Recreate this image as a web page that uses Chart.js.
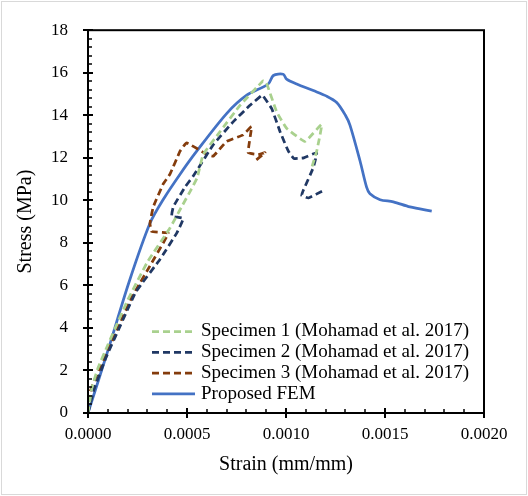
<!DOCTYPE html>
<html>
<head>
<meta charset="utf-8">
<script src="https://cdn.jsdelivr.net/npm/chart.js@4.4.1/dist/chart.umd.min.js"></script>
<style>
html, body { margin: 0; padding: 0; background: #fff; }
</style>
</head>
<body>
<canvas id="stressChart" width="528" height="496"></canvas>
<script>
// values
const seriesNames = [
    'Specimen 1 (Mohamad et al. 2017)',
    'Specimen 2 (Mohamad et al. 2017)',
    'Specimen 3 (Mohamad et al. 2017)',
    'Proposed FEM'
];

const strain1 = [0, 0.00002, 0.00005, 0.0001, 0.0002, 0.0003, 0.000414, 0.000473, 0.000523, 0.000552, 0.000582, 0.000667, 0.000768, 0.000885, 0.0009, 0.000953, 0.001003, 0.001096, 0.00118, 0.001155, 0.00113];
const stress1 = [0, 1.2, 2.1, 3.2, 5.3, 7.1, 8.7, 9.7, 10.54, 11.08, 12.16, 13.23, 14.47, 15.62, 15.55, 14.16, 13.39, 12.77, 13.57, 12.31, 11.54];

const strain2 = [0, 0.00003, 0.000091, 0.000158, 0.000242, 0.000364, 0.000448, 0.000481, 0.000423, 0.000431, 0.00049, 0.000532, 0.000549, 0.000633, 0.000734, 0.000818, 0.000877, 0.000885, 0.000928, 0.00097, 0.001012, 0.00104, 0.00109, 0.001155, 0.001138, 0.001087, 0.001079, 0.001113, 0.001188];
const stress2 = [0, 1.1, 2.61, 4.0, 5.7, 7.23, 8.46, 9.15, 9.26, 9.7, 10.62, 11.15, 11.39, 12.62, 13.7, 14.47, 14.93, 14.9, 14.31, 13.23, 12.31, 11.97, 12.0, 12.24, 11.54, 10.46, 10.23, 10.11, 10.46];

const strain3 = [0, 0.000007, 0.00004, 0.000108, 0.000158, 0.000226, 0.000246, 0.000313, 0.00038, 0.000405, 0.000321, 0.000313, 0.00033, 0.00038, 0.000414, 0.000465, 0.000498, 0.0006, 0.000633, 0.0007, 0.000784, 0.000826, 0.000809, 0.00086, 0.000894, 0.000843];
const stress3 = [0, 0.9, 1.69, 3.07, 4.15, 5.54, 5.85, 6.92, 8.0, 8.46, 8.54, 8.92, 9.7, 10.77, 11.23, 12.31, 12.7, 12.16, 12.08, 12.77, 13.08, 13.47, 12.24, 12.16, 12.24, 11.85];

const strainFem = [0, 0.0001, 0.000207, 0.000313, 0.000384, 0.000465, 0.000549, 0.0007, 0.0008, 0.00091, 0.000936, 0.000986, 0.001003, 0.001054, 0.001138, 0.001205, 0.001256, 0.0013, 0.001323, 0.001374, 0.001407, 0.001424, 0.001475, 0.001542, 0.001626, 0.001736];
const stressFem = [0, 2.92, 6.15, 8.92, 10.1, 11.23, 12.31, 14.08, 14.93, 15.47, 15.87, 15.93, 15.7, 15.47, 15.16, 14.9, 14.6, 14.0, 13.54, 11.85, 10.62, 10.31, 10.03, 9.93, 9.69, 9.49];

const xTicks = [0, 0.0005, 0.001, 0.0015, 0.002];
const yTicks = [0, 2, 4, 6, 8, 10, 12, 14, 16, 18];
const minorPerMajor = 5;

const serif = '"Liberation Serif", "Times New Roman", serif';

function toPoints(xs, ys) {
    return xs.map(function(x, i) { return { x: x, y: ys[i] }; });
}

function lineSet(label, xs, ys, color, dash, width, tension) {
    return {
        label: label,
        data: toPoints(xs, ys),
        showLine: true,
        borderColor: color,
        backgroundColor: color,
        borderWidth: width,
        borderDash: dash,
        pointRadius: 0,
        fill: false,
        tension: tension
    };
}

// box round the plot, ticks crossing the axes, legend inside the plot
const framePlugin = {
    id: 'framePlugin',
    afterDatasetsDraw: function(chart) {
        const ctx = chart.ctx;
        const area = chart.chartArea;
        const sx = chart.scales.x, sy = chart.scales.y;
        ctx.save();
        ctx.strokeStyle = '#000';
        ctx.lineWidth = 2;
        ctx.strokeRect(area.left, area.top, area.right - area.left, area.bottom - area.top);

        const xStep = (xTicks[1] - xTicks[0]) / minorPerMajor;
        const xCount = (xTicks.length - 1) * minorPerMajor;
        for (let i = 0; i <= xCount; i++) {
            const px = Math.round(sx.getPixelForValue(xTicks[0] + i * xStep));
            ctx.beginPath();
            if (i % minorPerMajor === 0) {
                ctx.lineWidth = 2;
                ctx.moveTo(px, area.bottom - 5);
                ctx.lineTo(px, area.bottom + 5);
            } else {
                ctx.lineWidth = 1.5;
                ctx.moveTo(px, area.bottom - 4);
                ctx.lineTo(px, area.bottom);
            }
            ctx.stroke();
        }

        const yStep = (yTicks[1] - yTicks[0]) / minorPerMajor;
        const yCount = (yTicks.length - 1) * minorPerMajor;
        for (let j = 0; j <= yCount; j++) {
            const py = Math.round(sy.getPixelForValue(yTicks[0] + j * yStep));
            ctx.beginPath();
            if (j % minorPerMajor === 0) {
                ctx.lineWidth = 2;
                ctx.moveTo(area.left - 5, py);
                ctx.lineTo(area.left + 5, py);
            } else {
                ctx.lineWidth = 1.5;
                ctx.moveTo(area.left, py);
                ctx.lineTo(area.left + 4, py);
            }
            ctx.stroke();
        }
        ctx.restore();
    },
    afterDraw: function(chart) {
        const ctx = chart.ctx;
        ctx.save();
        ctx.strokeStyle = '#d9d9d9';
        ctx.lineWidth = 1;
        ctx.strokeRect(1.5, 1.5, chart.width - 3, chart.height - 3);

        const legendX = 152, legendY = 331.5, rowGap = 20.8, sampleLen = 43;
        ctx.font = '19px ' + serif;
        ctx.textBaseline = 'middle';
        chart.data.datasets.forEach(function(ds, i) {
            const y = legendY + i * rowGap;
            ctx.save();
            ctx.strokeStyle = ds.borderColor;
            ctx.lineWidth = ds.borderWidth;
            ctx.setLineDash(ds.borderDash || []);
            ctx.beginPath();
            ctx.moveTo(legendX, y);
            ctx.lineTo(legendX + sampleLen, y);
            ctx.stroke();
            ctx.restore();
            ctx.fillStyle = '#000';
            ctx.fillText(ds.label, legendX + sampleLen + 6, y);
        });
        ctx.restore();
    }
};

new Chart(document.getElementById('stressChart'), {
    type: 'scatter',
    data: {
        datasets: [
            lineSet(seriesNames[0], strain1, stress1, '#A9D18E', [7, 4], 2.75, 0.1),
            lineSet(seriesNames[1], strain2, stress2, '#203864', [7, 4], 2.75, 0.1),
            lineSet(seriesNames[2], strain3, stress3, '#843C0C', [7, 4], 2.75, 0.1),
            lineSet(seriesNames[3], strainFem, stressFem, '#4472C4', [], 2.75, 0.3)
        ]
    },
    options: {
        responsive: false,
        animation: false,
        layout: { padding: { left: 0, top: 24, right: 44, bottom: 0 } },
        plugins: {
            legend: { display: false },
            tooltip: { enabled: false }
        },
        scales: {
            x: {
                type: 'linear',
                min: xTicks[0],
                max: xTicks[xTicks.length - 1],
                afterBuildTicks: function(scale) {
                    scale.ticks = xTicks.map(function(v) { return { value: v }; });
                },
                afterFit: function(scale) { scale.height = 83; },
                grid: { display: false, drawTicks: false },
                border: { display: false },
                ticks: {
                    color: '#000',
                    font: { family: serif, size: 17 },
                    padding: 11,
                    maxRotation: 0,
                    callback: function(v) { return Number(v).toFixed(4); }
                },
                title: {
                    display: true,
                    text: 'Strain (mm/mm)',
                    color: '#000',
                    font: { family: serif, size: 20 },
                    padding: { top: 0, bottom: 19 }
                }
            },
            y: {
                type: 'linear',
                min: yTicks[0],
                max: yTicks[yTicks.length - 1],
                afterBuildTicks: function(scale) {
                    scale.ticks = yTicks.map(function(v) { return { value: v }; });
                },
                afterFit: function(scale) { scale.width = 88; },
                grid: { display: false, drawTicks: false },
                border: { display: false },
                ticks: {
                    color: '#000',
                    font: { family: serif, size: 17 },
                    padding: 20
                },
                title: {
                    display: true,
                    text: 'Stress (MPa)',
                    color: '#000',
                    font: { family: serif, size: 20 },
                    padding: { top: 14, bottom: 0 }
                }
            }
        }
    },
    plugins: [framePlugin]
});
</script>
</body>
</html>
